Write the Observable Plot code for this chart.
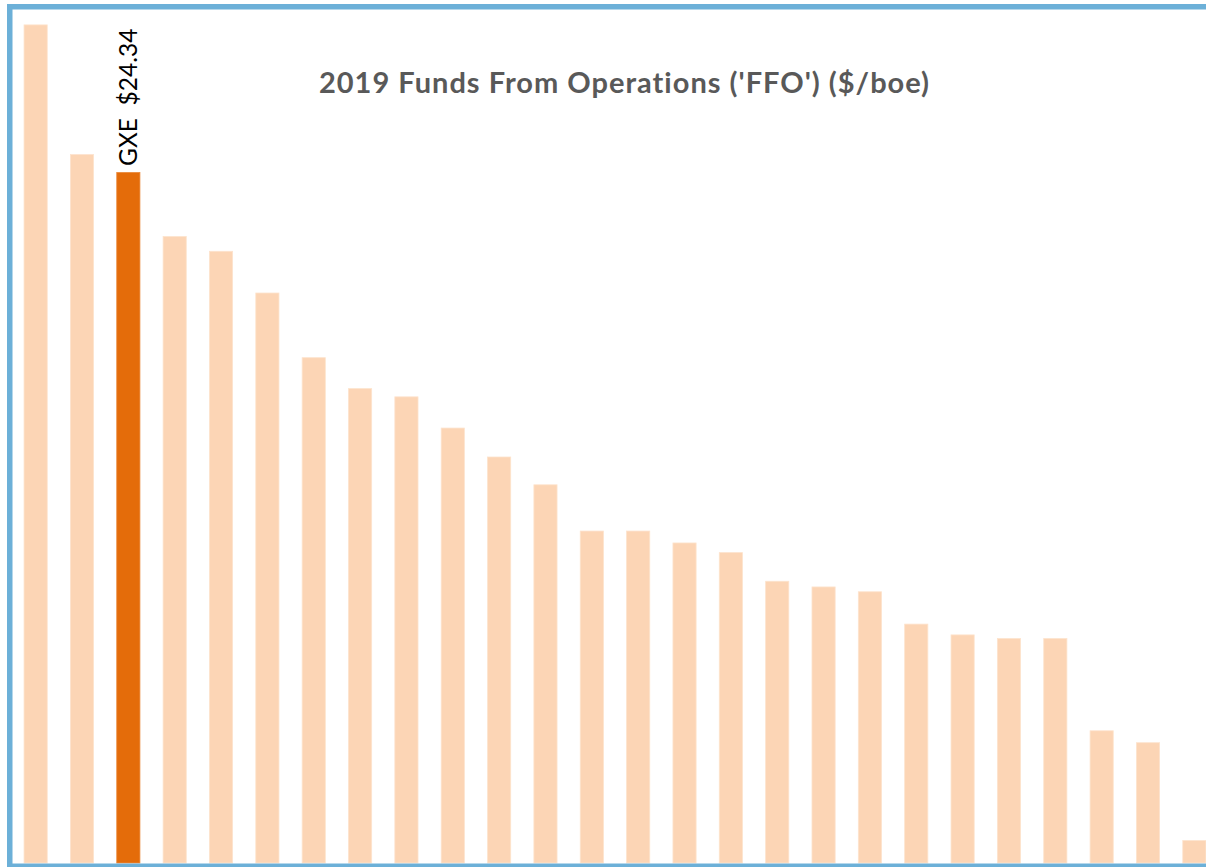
<!DOCTYPE html>
<html>
<head>
<meta charset="utf-8">
<script src="https://cdn.jsdelivr.net/npm/d3@7"></script>
<script src="https://cdn.jsdelivr.net/npm/@observablehq/plot@0.6"></script>
<style>
  html, body { margin: 0; padding: 0; background: #fff; overflow: hidden; }
  #chart { position: absolute; left: 0; top: 0; width: 1230px; }
  #chart svg { max-width: none !important; }
</style>
</head>
<body>
<div id="chart"></div>
<script>
// Peer ranking, 2019 FFO ($/boe), sorted descending; GXE highlighted
const ranks = Array.from({length: 26}, (_, i) => i + 1);
const ffo = [29.54, 24.97, 24.34, 22.08, 21.56, 20.09, 17.81, 16.72, 16.43, 15.33,
             14.31, 13.33, 11.70, 11.70, 11.28, 10.94, 9.93, 9.73, 9.56, 8.42,
             8.04, 7.91, 7.91, 4.66, 4.24, 0.79];
const companies = ranks.map(r => r === 3 ? "GXE" : "Peer " + r);
const highlight = "GXE";
const title = "2019 Funds From Operations ('FFO') ($/boe)";

const data = ranks.map((r, i) => ({rank: r, company: companies[i], value: ffo[i]}));
const gxe = data.filter(d => d.company === highlight);

const chart = Plot.plot({
  width: 1230,
  height: 867,
  marginLeft: 12,
  marginRight: 12,
  marginTop: 9,
  marginBottom: 4,
  style: {background: "#fff", overflow: "visible", maxWidth: "none"},
  x: {type: "band", domain: ranks, paddingInner: 0.5, paddingOuter: 0.26, round: false, axis: null},
  y: {domain: [0, 30.1], axis: null},
  marks: [
    Plot.barY(data, {
      x: "rank", y: "value",
      fill: d => d.company === highlight ? "#e46c0a" : "#fcd5b5",
      stroke: d => d.company === highlight ? "#ea8a3c" : "#fde3cd",
      strokeWidth: 0.8
    }),
    Plot.text(gxe, {
      x: "rank", y: "value",
      text: d => `${d.company}\u00a0\u00a0$${d.value.toFixed(2)}`,
      rotate: -90, textAnchor: "start", lineAnchor: "middle",
      dy: -7, fontSize: 24.5, fontFamily: "Lato", fill: "#000"
    }),
    Plot.text([title], {
      frameAnchor: "top", dx: 9, dy: 74, lineAnchor: "middle",
      fontSize: 29, fontWeight: "bold", fontFamily: "Lato", fill: "#595959"
    }),
    Plot.frame({stroke: "#6cb0d8", strokeWidth: 5.5, inset: -2.75})
  ]
});
document.getElementById("chart").append(chart);
d3.select(chart).selectAll("text").filter(function () { return this.textContent === title; })
  .attr("letter-spacing", "1px");
</script>
</body>
</html>
